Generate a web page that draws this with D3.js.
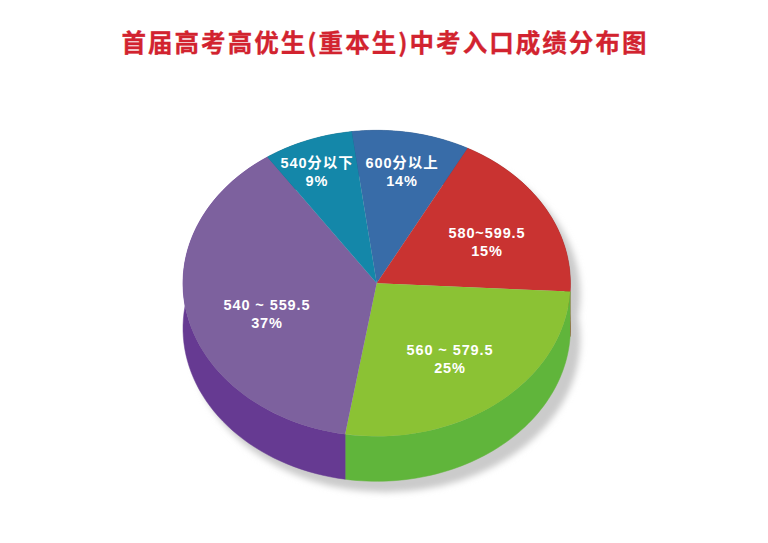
<!DOCTYPE html>
<html>
<head>
<meta charset="utf-8">
<script src="https://cdn.jsdelivr.net/npm/d3@7"></script>
<style>
html,body{margin:0;padding:0;background:#fff;}
svg{display:block;}
</style>
</head>
<body>
<svg id="chart" width="768" height="543"></svg>
<script>
const titleText = "首届高考高优生(重本生)中考入口成绩分布图";
const categories = ["600分以上", "580~599.5", "560 ~ 579.5", "540 ~ 559.5", "540分以下"];
const labelledPercents = [14, 15, 25, 37, 9];
// share of the full turn that each slice actually occupies in the picture
const drawnShares = [9.83, 18.08, 26.75, 37.86, 7.48];
const topColors = ["#386ca8", "#c93331", "#8bc234", "#7d619e", "#1487a9"];
const sideColors = ["#2c5788", "#a32826", "#60b53b", "#663a92", "#106c87"];

const W = 768, H = 543;
const cx = 376.7, cy = 283.3, rx = 193.7, ry = 153, depth = 45;
const startDeg = -7.4;
const labelCentres = [[402, 163], [487, 233], [450, 350], [267, 305], [317, 163]];

const svg = d3.select("#chart");
const defs = svg.append("defs");
const soft = defs.append("filter").attr("id", "soft")
  .attr("x", "-20%").attr("y", "-20%").attr("width", "140%").attr("height", "140%");
soft.append("feGaussianBlur").attr("stdDeviation", 3);

svg.append("rect").attr("width", W).attr("height", H).attr("fill", "#fff");

svg.append("text")
  .attr("x", 385).attr("y", 52)
  .attr("text-anchor", "middle")
  .attr("font-family", "'Noto Sans CJK SC'")
  .attr("font-weight", 700)
  .attr("font-size", 24.5)
  .attr("letter-spacing", 2.05)
  .attr("fill", "#d2232f")
  .attr("stroke", "#d2232f")
  .attr("stroke-width", 0.3)
  .text(titleText);

const rad = d => d * Math.PI / 180;
const slices = d3.pie().sort(null)
  .startAngle(rad(startDeg)).endAngle(rad(startDeg + 360))(drawnShares);

const px = a => cx + rx * Math.sin(a);
const py = a => cy - ry * Math.cos(a);

// soft shadow under the cake
const shadow = svg.append("g").attr("filter", "url(#soft)").attr("fill", "#cbcbcb");
[cy + depth + 11, cy + 11].forEach(y => {
  shadow.append("ellipse")
    .attr("cx", cx + 9).attr("cy", y)
    .attr("rx", rx + 1).attr("ry", ry);
});

// walls: every slice swept down by the depth of the cake
const line = d3.line().x(d => d[0]).y(d => d[1]);
const walls = svg.append("g");
slices.forEach((s, i) => {
  const n = 60;
  const angles = d3.range(n + 1).map(k => s.startAngle + (s.endAngle - s.startAngle) * k / n);
  const upper = angles.map(a => [px(a), py(a)]);
  const lower = angles.slice().reverse().map(a => [px(a), py(a) + depth]);
  walls.append("path")
    .attr("d", line(upper.concat(lower)) + "Z")
    .attr("fill", sideColors[i])
    .attr("stroke", sideColors[i])
    .attr("stroke-width", 0.5);
});

// top face
const arc = d3.arc().innerRadius(0).outerRadius(1);
const face = svg.append("g")
  .attr("transform", `translate(${cx},${cy}) scale(${rx},${ry})`);
face.selectAll("path").data(slices).join("path")
  .attr("d", arc)
  .attr("fill", (d, i) => topColors[i]);

// labels
const labels = svg.append("g")
  .attr("font-family", "'Liberation Sans','Noto Sans CJK SC'")
  .attr("font-weight", 700)
  .attr("font-size", 14.5)
  .attr("letter-spacing", 0.9)
  .attr("fill", "#fff")
  .attr("text-anchor", "middle");
categories.forEach((c, i) => {
  const [x, y] = labelCentres[i];
  labels.append("text").attr("x", x).attr("y", y + 5).text(c);
  labels.append("text").attr("x", x).attr("y", y + 23).text(labelledPercents[i] + "%");
});
</script>
</body>
</html>
